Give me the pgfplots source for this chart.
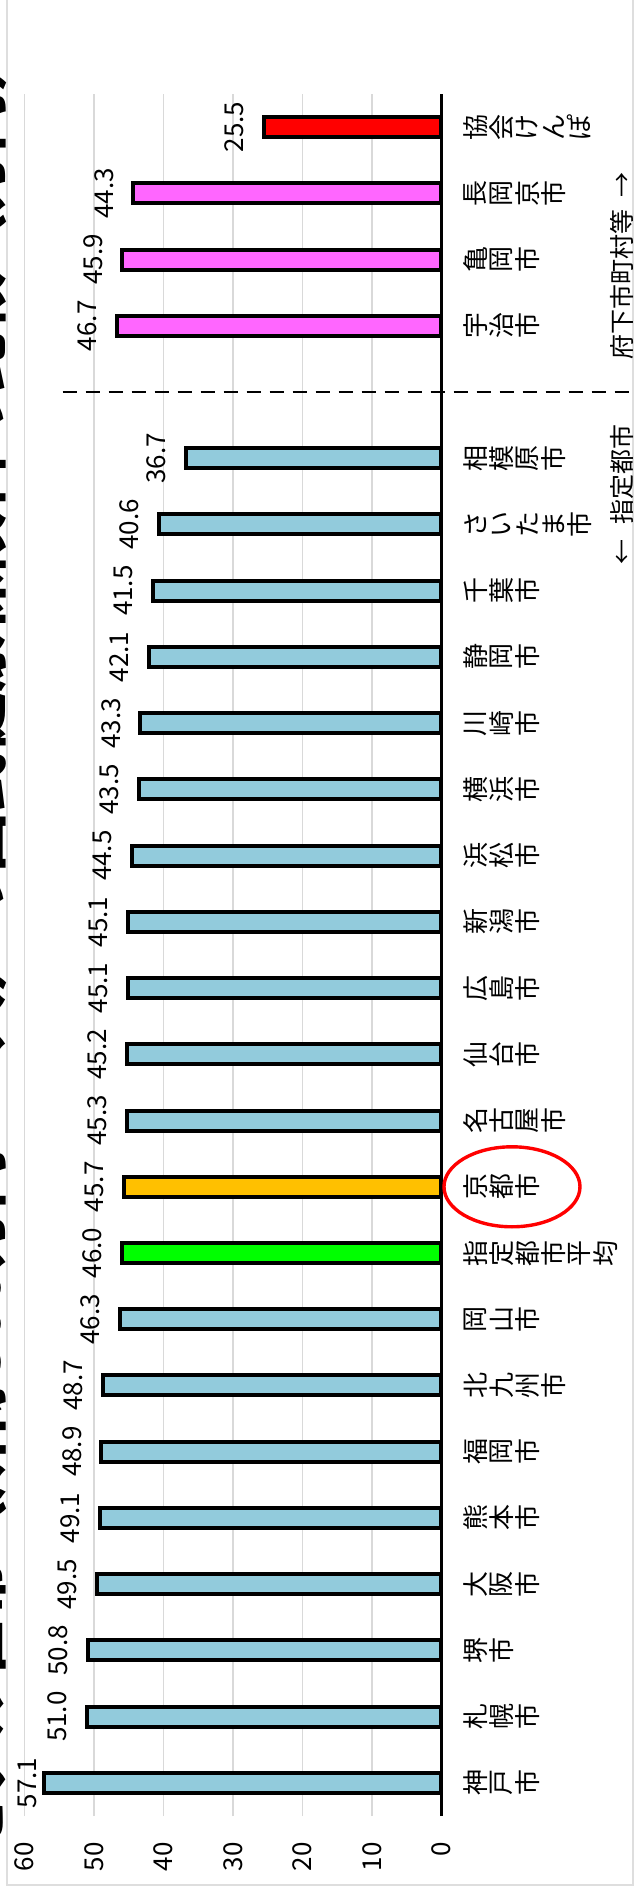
\documentclass[border=0pt]{standalone}
\usepackage{fontspec}
\setmainfont{Noto Sans CJK JP}
\usepackage{graphicx}
\usepackage{pgfplots}
\usepackage{pgfplotstable}
\pgfplotsset{compat=1.18}
\definecolor{lblue}{RGB}{146,203,220}
\definecolor{orng}{RGB}{255,192,0}
\definecolor{grn}{RGB}{0,255,0}
\definecolor{mag}{RGB}{255,102,255}
\definecolor{rd}{RGB}{255,0,0}
\definecolor{grd}{RGB}{217,217,217}
\definecolor{frm}{RGB}{222,222,222}
% one character turned a quarter turn, in a box of fixed width
\newcommand{\rc}[1]{\makebox[1em]{\rotatebox{90}{#1}}}

% slot: 0 = bottom (Kobe) ... 25 = top (Kyokai Kenpo); slot 21 is empty
\pgfplotstableread{
y v
0 57.1
}\kobe
\pgfplotstableread{
y v
1 51.0
2 50.8
3 49.5
4 49.1
5 48.9
6 48.7
7 46.3
10 45.3
11 45.2
12 45.1
13 45.1
14 44.5
15 43.5
16 43.3
17 42.1
18 41.5
19 40.6
20 36.7
}\cities
\pgfplotstableread{
y v
8 46.0
}\avg
\pgfplotstableread{
y v
9 45.7
}\kyoto
\pgfplotstableread{
y v
22 46.7
23 45.9
24 44.3
}\fuka
\pgfplotstableread{
y v
25 25.5
}\kyokai

\begin{document}
\begin{tikzpicture}
\useasboundingbox (0,0) rectangle (317.5pt,946pt);
% outer frame
\draw[frm, line width=1pt] (3.5pt,3.5pt) rectangle (316.5pt,960pt);
% title (mostly outside the page, as in the reference)
\node[rotate=90, anchor=base, font=\fontsize{30}{32}\selectfont\bfseries, inner sep=0pt]
  at (0pt,473pt) {モデル世帯（所得300万円・4人）の国民健康保険料の比較（万円）};
\begin{axis}[
  at={(116.45pt,468.5pt)}, anchor=center,
  scale only axis, width=208.6pt, height=861pt,
  xbar, bar shift=0pt, bar width=10pt,
  xmin=0, xmax=60, x dir=reverse,
  ymin=-0.5, ymax=25.5,
  xtick={10,20,30,40,50,60},
  extra x ticks={0},
  extra x tick style={grid style={black, line width=1.1pt}},
  xmajorgrids, grid style={grd, line width=0.75pt},
  major tick length=0pt,
  axis line style={draw=none},
  ytick={0,1,...,25},
  yticklabel pos=right,
  yticklabels={{\rc{神}\rc{戸}\rc{市}},{\rc{札}\rc{幌}\rc{市}},{\rc{堺}\rc{市}},{\rc{大}\rc{阪}\rc{市}},{\rc{熊}\rc{本}\rc{市}},{\rc{福}\rc{岡}\rc{市}},{\rc{北}\rc{九}\rc{州}\rc{市}},{\rc{岡}\rc{山}\rc{市}},{\rc{指}\rc{定}\rc{都}\rc{市}\rc{平}\rc{均}},{\rc{京}\rc{都}\rc{市}},{\rc{名}\rc{古}\rc{屋}\rc{市}},{\rc{仙}\rc{台}\rc{市}},{\rc{広}\rc{島}\rc{市}},{\rc{新}\rc{潟}\rc{市}},{\rc{浜}\rc{松}\rc{市}},{\rc{横}\rc{浜}\rc{市}},{\rc{川}\rc{崎}\rc{市}},{\rc{静}\rc{岡}\rc{市}},{\rc{千}\rc{葉}\rc{市}},{\rc{さ}\rc{い}\rc{た}\rc{ま}\rc{市}},{\rc{相}\rc{模}\rc{原}\rc{市}},{},{\rc{宇}\rc{治}\rc{市}},{\rc{亀}\rc{岡}\rc{市}},{\rc{長}\rc{岡}\rc{京}\rc{市}},{\rc{協}\rc{会}\rc{け}\rc{ん}\rc{ぽ}}},
  xticklabel style={font=\fontsize{13}{14}\selectfont, yshift=-13pt, rotate=90, anchor=east, inner sep=0pt},
  yticklabel style={font=\fontsize{13}{14}\selectfont, anchor=west, inner sep=0pt, xshift=10.25pt},
  /pgf/number format/assume math mode=true,
  clip=false,
  point meta=x,
  nodes near coords={\pgfmathprintnumber[fixed,fixed zerofill,precision=1]{\pgfplotspointmeta}},
  every node near coord/.append style={font=\fontsize{13}{14}\selectfont, rotate=90, anchor=south, inner xsep=0pt, inner ysep=9pt, text=black},
]
\addplot[draw=black, line width=2pt, fill=lblue, every node near coord/.append style={inner ysep=3pt}] table[x=v, y=y] {\kobe};
\addplot[draw=black, line width=2pt, fill=lblue] table[x=v, y=y] {\cities};
\addplot[draw=black, line width=2pt, fill=grn] table[x=v, y=y] {\avg};
\addplot[draw=black, line width=2pt, fill=orng] table[x=v, y=y] {\kyoto};
\addplot[draw=black, line width=2pt, fill=mag] table[x=v, y=y] {\fuka};
\addplot[draw=black, line width=2pt, fill=rd] table[x=v, y=y] {\kyokai};
% separator between designated cities and prefecture municipalities
\draw[black, line width=1.35pt, dash pattern=on 7pt off 4.5pt] (axis cs:54.5,21) -- ([xshift=95.5pt]axis cs:0,21);
\node[rotate=90, font=\fontsize{12.5}{14}\selectfont, inner sep=0pt] at ([xshift=90.25pt]axis cs:0,22.9) {府下市町村等\hspace{0.5em}→};
\node[rotate=90, font=\fontsize{12.5}{14}\selectfont, inner sep=0pt] at ([xshift=90.25pt]axis cs:0,19.45) {←\hspace{0.6em}指定都市};
% highlight Kyoto
\draw[rd, line width=1.7pt] ([xshift=35.25pt]axis cs:0,9) ellipse [x radius=34pt, y radius=20pt];
\end{axis}
\end{tikzpicture}
\end{document}
